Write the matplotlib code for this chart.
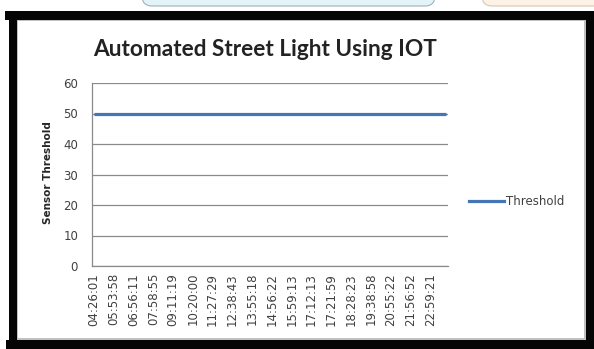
import matplotlib
matplotlib.use("Agg")
import matplotlib.pyplot as plt
from matplotlib.patches import Rectangle, FancyBboxPatch
from matplotlib.lines import Line2D

# Sampling times (one label per five readings) and the sensor threshold readings
time_labels = ["04:26:01", "05:53:58", "06:56:11", "07:58:55", "09:11:19",
               "10:20:00", "11:27:29", "12:38:43", "13:55:18", "14:56:22",
               "15:59:13", "17:12:13", "17:21:59", "18:28:23", "19:38:58",
               "20:55:22", "21:56:52", "22:59:21"]
label_step = 5
threshold = [50, 50, 50, 50, 50, 50, 50, 50, 50, 50,
             50, 50, 50, 50, 50, 50, 50, 50, 50, 50,
             50, 50, 50, 50, 50, 50, 50, 50, 50, 50,
             50, 50, 50, 50, 50, 50, 50, 50, 50, 50,
             50, 50, 50, 50, 50, 50, 50, 50, 50, 50,
             50, 50, 50, 50, 50, 50, 50, 50, 50, 50,
             50, 50, 50, 50, 50, 50, 50, 50, 50, 50,
             50, 50, 50, 50, 50, 50, 50, 50, 50, 50,
             50, 50, 50, 50, 50, 50, 50, 50, 50, 50]
y_ticks = [0, 10, 20, 30, 40, 50, 60]

W, H = 594, 349
fig = plt.figure(figsize=(W / 100, H / 100), dpi=100)
fig.patch.set_facecolor("white")

# Full-figure canvas in pixel units for the frame decorations
bg = fig.add_axes([0, 0, 1, 1], zorder=0)
bg.set_xlim(0, W)
bg.set_ylim(H, 0)
bg.axis("off")

# Partially visible shapes above the frame
bg.add_patch(FancyBboxPatch((142, -30), 293, 36, boxstyle="round,pad=0,rounding_size=10",
                            facecolor="#e3f4f8", edgecolor="#9fb0bc", lw=0.8))
bg.add_patch(FancyBboxPatch((482, -30), 140, 36, boxstyle="round,pad=0,rounding_size=10",
                            facecolor="#fdf2e6", edgecolor="#d9c6b4", lw=0.8))

# Chart-area inner edge and thick black frame
bg.add_patch(Rectangle((17, 20), 568, 319, facecolor="white", edgecolor="#b5b5b5", lw=1.2))
black = "#050505"
bg.add_patch(Rectangle((5, 11), 588, 9, facecolor=black, edgecolor="none"))
bg.add_patch(Rectangle((9, 11), 8, 338, facecolor=black, edgecolor="none"))
bg.add_patch(Rectangle((586, 11), 8, 338, facecolor=black, edgecolor="none"))
bg.add_patch(Rectangle((6, 340), 588, 9, facecolor=black, edgecolor="none"))

# Plot area
left, right, top, bottom = 92, 448, 83, 266
ax = fig.add_axes([left / W, 1 - bottom / H, (right - left) / W, (bottom - top) / H], zorder=2)
ax.set_facecolor("none")

n = len(threshold)
x = list(range(n))
line_color = "#4476b6"
ax.plot(x, threshold, color=line_color, lw=2.3, solid_capstyle="butt", zorder=3)

ax.set_xlim(-0.5, n - 0.5)
ax.set_ylim(0, 60)
ax.set_yticks(y_ticks)
ax.set_xticks(list(range(0, n, label_step))[:len(time_labels)])
ax.set_xticklabels(time_labels, rotation=90, va="top", ha="center")

grid_color = "#8a8a8a"
ax.yaxis.grid(True, color=grid_color, lw=0.9)
ax.set_axisbelow(True)
for side in ("top", "right"):
    ax.spines[side].set_visible(False)
ax.spines["left"].set_color(grid_color)
ax.spines["bottom"].set_color(grid_color)
ax.spines["left"].set_linewidth(0.9)
ax.spines["bottom"].set_linewidth(0.9)

text_color = "#404040"
ax.tick_params(axis="y", length=0, pad=10, labelsize=8.5, labelcolor=text_color)
ax.tick_params(axis="x", length=0, pad=5, labelsize=8.5, labelcolor=text_color)

# Title and axis label
fig.text(265 / W, 1 - 50 / H, "Automated Street Light Using IOT", ha="center", va="center",
         fontsize=16.3, fontweight="bold", family="Lato", color="#222222")
fig.text(48 / W, 1 - 173 / H, "Sensor Threshold", rotation=90, ha="center", va="center",
         fontsize=7.5, fontweight="bold", color="#262626")

# Legend to the right of the plot
handle = Line2D([], [], color=line_color, lw=2.3)
fig.legend([handle], ["Threshold"], loc="center left", bbox_to_anchor=(469 / W, 1 - 202 / H),
           frameon=False, borderpad=0, borderaxespad=0, handlelength=3.0, handletextpad=0.1,
           prop={"size": 8.5}, labelcolor=text_color)

fig.savefig("out.png", dpi=100)
